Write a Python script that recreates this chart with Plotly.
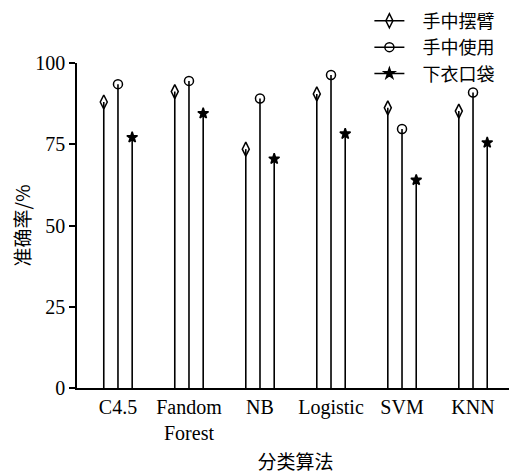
import plotly.graph_objects as go

categories = ["C4.5", "Fandom<br>Forest", "NB", "Logistic", "SVM", "KNN"]
series_names = ["手中摆臂", "手中使用", "下衣口袋"]
swing = [88.0, 91.2, 73.5, 90.5, 86.2, 85.2]
hand_use = [93.5, 94.5, 89.1, 96.3, 79.7, 90.9]
pocket = [77.1, 84.5, 70.5, 78.2, 64.0, 75.5]
y_ticks = [0, 25, 50, 75, 100]

series = [swing, hand_use, pocket]
offsets = [-0.2, 0.0, 0.2]
symbols = ["diamond-tall-open", "circle-open", "star"]
sizes = [10, 9, 8]

serif = "Liberation Serif, Times New Roman, serif"
cjk = "Noto Sans CJK SC, sans-serif"

fig = go.Figure()
for name, vals, off, sym, sz in zip(series_names, series, offsets, symbols, sizes):
    xs = [i + off for i in range(len(categories))]
    fig.add_trace(go.Scatter(
        x=xs, y=vals, mode="markers", showlegend=False,
        marker=dict(symbol=sym, size=sz, color="black", line=dict(color="black", width=1.5)),
        error_y=dict(type="data", symmetric=False, array=[0] * len(vals), arrayminus=vals,
                     thickness=1.6, width=0, color="black"),
    ))
    fig.add_trace(go.Scatter(
        x=[None], y=[None], mode="lines+markers", name="\u2002\u00a0" + name,
        line=dict(color="black", width=1.5),
        marker=dict(symbol=sym, size=sz, color="black", line=dict(color="black", width=1.5)),
    ))

# page body has an 8px margin, so the figure is sized to fill the rest of the window
fig.update_layout(
    width=509, height=466,
    margin=dict(l=69, r=3, t=55, b=86, autoexpand=False),
    paper_bgcolor="white", plot_bgcolor="white",
    showlegend=True,
    legend=dict(xref="container", yref="paper", x=0.71, y=1.186, xanchor="left", yanchor="top",
                font=dict(family=cjk, size=18, color="black"), bgcolor="rgba(0,0,0,0)",
                tracegroupgap=0, itemwidth=30),
    xaxis=dict(range=[-0.577, 5.577], tickmode="array", tickvals=list(range(len(categories))),
               ticktext=categories, showline=True, linecolor="black", linewidth=1.5,
               ticks="", showgrid=False, zeroline=False,
               tickfont=dict(family=serif, size=20, color="black"),
               title=dict(text="分类算法", font=dict(family=cjk, size=19, color="black"), standoff=17)),
    yaxis=dict(range=[0, 100], tickmode="array", tickvals=y_ticks, showline=True,
               linecolor="black", linewidth=1.5, ticks="outside", ticklen=6, tickwidth=1.5,
               tickcolor="black", showgrid=False, zeroline=False,
               tickfont=dict(family=serif, size=20, color="black"),
               title=dict(text="准确率/%", font=dict(family=cjk, size=19, color="black"), standoff=2)),
    shapes=[dict(type="line", xref="paper", yref="paper", x0=0.998, x1=0.998, y0=0, y1=0.018,
                 line=dict(color="black", width=1.5))],
)

fig.write_html("out.html")
